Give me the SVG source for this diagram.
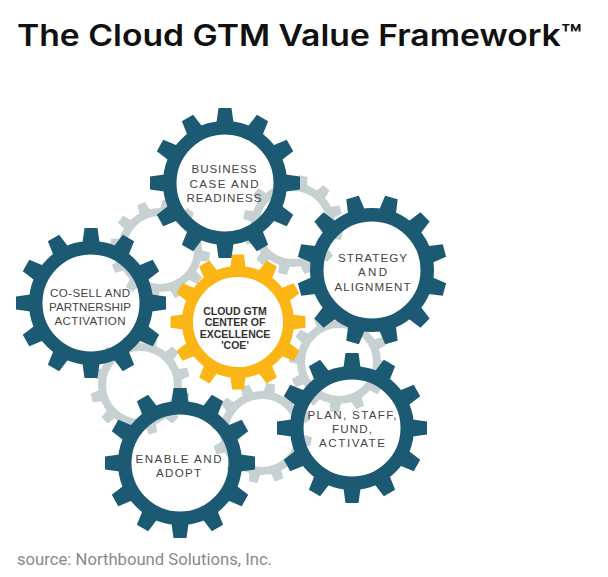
<svg xmlns="http://www.w3.org/2000/svg" xmlns:xlink="http://www.w3.org/1999/xlink" width="608" height="577" viewBox="0 0 608 577">
<style>
.dk{fill:#1b5a72}
.dkr{fill:none;stroke:#1b5a72;stroke-width:13.5}
.gr{fill:#c7d1d1}
.grr{fill:none;stroke:#c7d1d1;stroke-width:8}
.yl{fill:#fbb514}
.ylr{fill:none;stroke:#fbb514;stroke-width:11}
.lbl{font-family:"Liberation Sans",Arial,sans-serif;font-size:11.6px;fill:#444;text-anchor:middle}
.coe{font-family:"Liberation Sans",Arial,sans-serif;font-size:10.5px;font-weight:bold;fill:#333;text-anchor:middle}
</style>
<defs>
<g id="teeth">
<path id="tt" d="M-9,-57L9,-57L6.5,-75L-6.5,-75Z"/>
<use href="#tt" transform="rotate(30)"/>
<use href="#tt" transform="rotate(60)"/>
<use href="#tt" transform="rotate(90)"/>
<use href="#tt" transform="rotate(120)"/>
<use href="#tt" transform="rotate(150)"/>
<use href="#tt" transform="rotate(180)"/>
<use href="#tt" transform="rotate(210)"/>
<use href="#tt" transform="rotate(240)"/>
<use href="#tt" transform="rotate(270)"/>
<use href="#tt" transform="rotate(300)"/>
<use href="#tt" transform="rotate(330)"/>
</g>
</defs>
<rect width="608" height="577" fill="#fff"/>
<text x="17" y="46" font-family="Inter,'Liberation Sans',sans-serif" font-size="30" font-weight="600" fill="#111" textLength="565" lengthAdjust="spacingAndGlyphs">The Cloud GTM Value Framework™</text>

<g id="gray-gears">
<g id="gray-a"><use href="#teeth" class="gr" transform="translate(160 250) rotate(8) scale(0.667)"/><circle cx="160" cy="250" r="38" class="grr"/></g>
<g id="gray-b"><use href="#teeth" class="gr" transform="translate(293 225) rotate(12) scale(0.667)"/><circle cx="293" cy="225" r="38" class="grr"/></g>
<g id="gray-c"><use href="#teeth" class="gr" transform="translate(339 362) rotate(5) scale(0.667)"/><circle cx="339" cy="362" r="38" class="grr"/></g>
<g id="gray-d"><use href="#teeth" class="gr" transform="translate(140 385) rotate(15) scale(0.667)"/><circle cx="140" cy="385" r="38" class="grr"/></g>
<g id="gray-e"><use href="#teeth" class="gr" transform="translate(262 433) rotate(10) scale(0.667)"/><circle cx="262" cy="433" r="38" class="grr"/></g>
</g>

<g id="gear-business">
<use href="#teeth" class="dk" transform="translate(225 183)"/>
<circle cx="225" cy="183" r="55.25" class="dkr"/>
<text class="lbl" x="224" y="173" textLength="65">BUSINESS</text>
<text class="lbl" x="224" y="187.5" textLength="69">CASE AND</text>
<text class="lbl" x="224" y="202" textLength="75">READINESS</text>
</g>

<g id="gear-strategy">
<use href="#teeth" class="dk" transform="translate(372 270) rotate(15)"/>
<circle cx="372" cy="270" r="55.25" class="dkr"/>
<text class="lbl" x="372.5" y="262" textLength="69">STRATEGY</text>
<text class="lbl" x="372.5" y="276" textLength="29">AND</text>
<text class="lbl" x="372.5" y="290.5" textLength="76">ALIGNMENT</text>
</g>

<g id="gear-cosell">
<use href="#teeth" class="dk" transform="translate(91 303)"/>
<circle cx="91" cy="303" r="55.25" class="dkr"/>
<text class="lbl" x="90" y="297" textLength="80">CO-SELL AND</text>
<text class="lbl" x="90" y="311" textLength="82">PARTNERSHIP</text>
<text class="lbl" x="90" y="325" textLength="71">ACTIVATION</text>
</g>

<g id="gear-coe">
<use href="#teeth" class="yl" transform="translate(238 322) scale(0.9)"/>
<circle cx="238" cy="322" r="50.5" class="ylr"/>
<text class="coe" x="235" y="314.5">CLOUD GTM</text>
<text class="coe" x="235" y="326">CENTER OF</text>
<text class="coe" x="235" y="337.5">EXCELLENCE</text>
<text class="coe" x="235" y="349">'COE'</text>
</g>

<g id="gear-plan">
<use href="#teeth" class="dk" transform="translate(352 428)"/>
<circle cx="352" cy="428" r="55.25" class="dkr"/>
<text class="lbl" x="352" y="418.5" textLength="89">PLAN, STAFF,</text>
<text class="lbl" x="352" y="432.5" textLength="40">FUND,</text>
<text class="lbl" x="352" y="446.5" textLength="66">ACTIVATE</text>
</g>

<g id="gear-enable">
<use href="#teeth" class="dk" transform="translate(180 463)"/>
<circle cx="180" cy="463" r="55.25" class="dkr"/>
<text class="lbl" x="178.5" y="462.5" textLength="86">ENABLE AND</text>
<text class="lbl" x="178.5" y="476.5" textLength="45">ADOPT</text>
</g>

<text x="17" y="565" font-family="Roboto,'Liberation Sans',sans-serif" font-size="16" fill="#8a8a8a" textLength="255" lengthAdjust="spacingAndGlyphs">source: Northbound Solutions, Inc.</text>
</svg>
